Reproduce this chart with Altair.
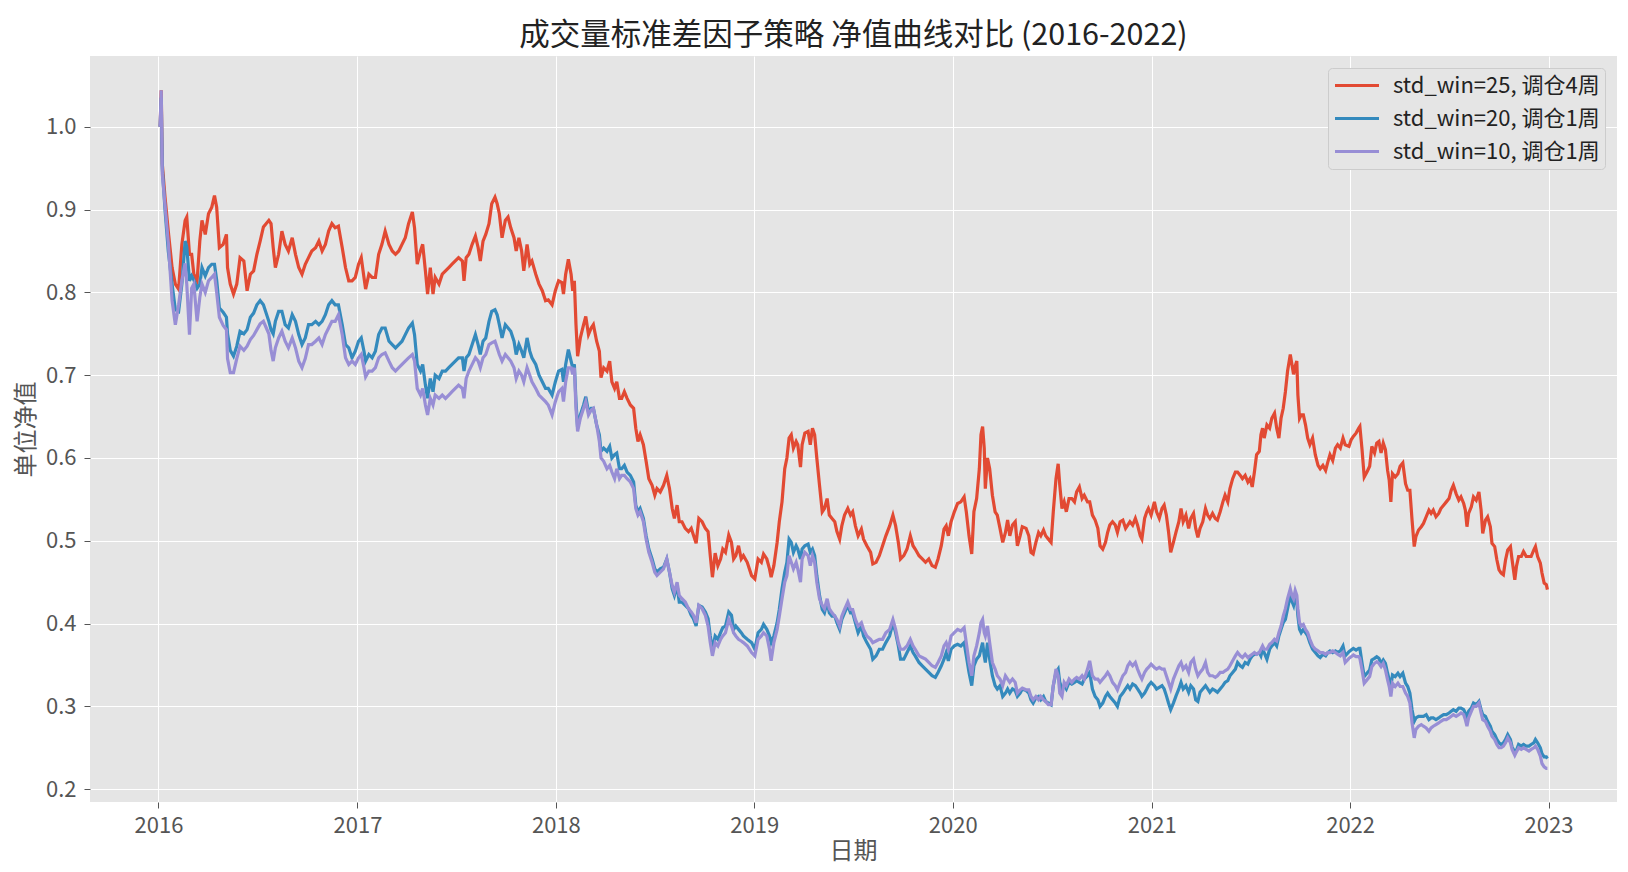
import altair as alt
import pandas as pd

# ---------------- data ----------------
labels = ["std_win=25, 调仓4周", "std_win=20, 调仓1周", "std_win=10, 调仓1周"]
colors = ["#E24A33", "#348ABD", "#988ED5"]
year_ticks = [2016, 2017, 2018, 2019, 2020, 2021, 2022, 2023]
value_ticks = [0.2, 0.3, 0.4, 0.5, 0.6, 0.7, 0.8, 0.9, 1.0]

# trading-day offsets (days since 2016-01-01)
days_2016 = [3, 5, 7, 12, 18, 25, 31, 37, 43, 49, 52, 57, 61, 65, 71, 76, 80, 86, 92, 98,
             103, 107, 112, 119, 125, 127, 132, 138, 144, 150, 157, 163, 169, 175, 181, 187, 193, 203, 207, 211,
             215, 221, 227, 233, 239, 246, 252, 258, 264, 270, 276, 282, 289, 295, 301, 307, 313, 319, 325, 331,
             338, 344, 350]
red_2016 = [1.0, 1.044, 0.955, 0.915, 0.874, 0.83, 0.81, 0.804, 0.858, 0.887, 0.891, 0.846, 0.846, 0.822, 0.814,
            0.862, 0.887, 0.87, 0.895, 0.903, 0.917, 0.903, 0.854, 0.858, 0.87, 0.83, 0.81, 0.798, 0.81, 0.842,
            0.838, 0.802, 0.822, 0.826, 0.846, 0.862, 0.879, 0.887, 0.883, 0.854, 0.83, 0.846, 0.874, 0.858, 0.85,
            0.866, 0.846, 0.83, 0.822, 0.834, 0.842, 0.85, 0.854, 0.862, 0.85, 0.858, 0.874, 0.883, 0.878, 0.88,
            0.854, 0.83, 0.814]
blue_2016 = [1.0, 1.035, 0.95, 0.9, 0.85, 0.81, 0.779, 0.777, 0.81, 0.862, 0.855, 0.814, 0.82, 0.815, 0.805,
             0.81, 0.83, 0.82, 0.83, 0.834, 0.834, 0.815, 0.781, 0.776, 0.77, 0.75, 0.73, 0.723, 0.735, 0.753,
             0.75, 0.755, 0.77, 0.775, 0.785, 0.79, 0.785, 0.765, 0.755, 0.75, 0.765, 0.777, 0.777, 0.761, 0.757,
             0.773, 0.765, 0.749, 0.737, 0.745, 0.761, 0.761, 0.765, 0.761, 0.765, 0.773, 0.785, 0.79, 0.785, 0.785,
             0.761, 0.737, 0.733]
purple_2016 = [1.0, 1.044, 0.943, 0.905, 0.86, 0.79, 0.761, 0.785, 0.814, 0.835, 0.81, 0.749, 0.805, 0.81, 0.765,
               0.794, 0.81, 0.8, 0.814, 0.818, 0.822, 0.8, 0.77, 0.76, 0.755, 0.72, 0.703, 0.703, 0.72, 0.735,
               0.73, 0.735, 0.743, 0.748, 0.755, 0.762, 0.765, 0.75, 0.73, 0.717, 0.733, 0.745, 0.753, 0.741, 0.733,
               0.745, 0.733, 0.717, 0.709, 0.72, 0.737, 0.737, 0.741, 0.745, 0.737, 0.749, 0.757, 0.765, 0.765, 0.773,
               0.749, 0.721, 0.713]

days_2017 = [356, 362, 368, 373, 378, 381, 387, 393, 399, 405, 411, 417, 424, 430, 436, 442, 448, 454, 460, 467,
             471, 476, 482, 486, 491, 495, 500, 505, 509, 516, 522, 528, 534, 540, 546, 552, 559, 562, 566, 571,
             577, 583, 588, 592, 597, 602, 608, 613, 619, 623, 627, 632, 638, 643, 648, 654, 658, 663, 668, 672,
             678, 683, 687, 694, 700, 706, 712]
red_2017 = [0.814, 0.818, 0.834, 0.842, 0.818, 0.804, 0.822, 0.818, 0.818, 0.846, 0.858, 0.874, 0.858, 0.85, 0.846,
            0.85, 0.858, 0.866, 0.883, 0.897, 0.878, 0.834, 0.85, 0.858, 0.826, 0.798, 0.83, 0.798, 0.818, 0.81,
            0.822, 0.826, 0.83, 0.834, 0.838, 0.842, 0.838, 0.814, 0.842, 0.846, 0.858, 0.868, 0.854, 0.838, 0.862,
            0.87, 0.883, 0.907, 0.915, 0.907, 0.895, 0.866, 0.887, 0.891, 0.878, 0.866, 0.85, 0.866, 0.85, 0.826,
            0.858, 0.834, 0.838, 0.822, 0.81, 0.802, 0.79]
blue_2017 = [0.721, 0.729, 0.741, 0.745, 0.729, 0.717, 0.725, 0.721, 0.729, 0.749, 0.757, 0.757, 0.741, 0.737, 0.733,
             0.737, 0.741, 0.749, 0.757, 0.763, 0.749, 0.713, 0.705, 0.713, 0.688, 0.672, 0.696, 0.68, 0.7, 0.696,
             0.705, 0.705, 0.709, 0.713, 0.717, 0.721, 0.721, 0.705, 0.721, 0.725, 0.737, 0.749, 0.737, 0.725, 0.741,
             0.745, 0.765, 0.777, 0.779, 0.773, 0.761, 0.745, 0.761, 0.757, 0.753, 0.741, 0.725, 0.737, 0.729, 0.721,
             0.745, 0.729, 0.721, 0.713, 0.7, 0.692, 0.684]
purple_2017 = [0.717, 0.713, 0.721, 0.725, 0.709, 0.698, 0.705, 0.705, 0.709, 0.721, 0.725, 0.727, 0.717, 0.709, 0.705,
               0.709, 0.713, 0.717, 0.721, 0.725, 0.717, 0.684, 0.676, 0.684, 0.664, 0.652, 0.672, 0.664, 0.676, 0.672,
               0.676, 0.672, 0.676, 0.68, 0.684, 0.688, 0.684, 0.672, 0.696, 0.705, 0.713, 0.721, 0.717, 0.709, 0.721,
               0.725, 0.737, 0.739, 0.741, 0.733, 0.725, 0.717, 0.725, 0.721, 0.717, 0.709, 0.696, 0.705, 0.7, 0.692,
               0.709, 0.7, 0.692, 0.684, 0.676, 0.672, 0.668]

days_2018 = [717, 724, 730, 736, 742, 745, 749, 754, 759, 762, 765, 768, 771, 776, 782, 786, 791, 796, 800, 806,
             811, 814, 819, 825, 830, 834, 839, 843, 848, 852, 857, 862, 868, 874, 878, 882, 886, 892, 897, 902,
             908, 913, 917, 923, 929, 935, 940, 945, 949, 954, 958, 963, 969, 975, 980, 984, 989, 994, 1000, 1006,
             1011, 1015, 1019, 1024, 1029, 1034, 1038, 1043, 1049, 1054, 1058, 1062, 1067, 1072, 1076, 1083]
red_2018 = [0.791, 0.785, 0.802, 0.814, 0.812, 0.798, 0.822, 0.84, 0.822, 0.802, 0.814, 0.761, 0.723, 0.745, 0.761,
            0.771, 0.749, 0.757, 0.761, 0.741, 0.729, 0.697, 0.709, 0.705, 0.717, 0.692, 0.684, 0.692, 0.672, 0.672,
            0.68, 0.672, 0.664, 0.66, 0.636, 0.62, 0.628, 0.616, 0.596, 0.575, 0.567, 0.555, 0.563, 0.559, 0.567,
            0.579, 0.563, 0.539, 0.527, 0.543, 0.523, 0.523, 0.515, 0.511, 0.515, 0.507, 0.497, 0.527, 0.523, 0.515,
            0.511, 0.482, 0.456, 0.485, 0.47, 0.478, 0.49, 0.486, 0.507, 0.498, 0.478, 0.482, 0.494, 0.478, 0.482,
            0.474]
blue_2018 = [0.684, 0.676, 0.692, 0.705, 0.707, 0.692, 0.713, 0.731, 0.717, 0.709, 0.713, 0.668, 0.636, 0.652, 0.664,
             0.674, 0.656, 0.66, 0.66, 0.64, 0.628, 0.608, 0.612, 0.608, 0.614, 0.6, 0.604, 0.606, 0.587, 0.587,
             0.591, 0.583, 0.579, 0.571, 0.543, 0.535, 0.539, 0.527, 0.506, 0.49, 0.478, 0.466, 0.462, 0.466, 0.468,
             0.478, 0.462, 0.442, 0.434, 0.446, 0.426, 0.426, 0.422, 0.418, 0.41, 0.406, 0.397, 0.422, 0.42, 0.414,
             0.406, 0.385, 0.369, 0.385, 0.381, 0.389, 0.395, 0.397, 0.414, 0.41, 0.393, 0.397, 0.393, 0.389, 0.385,
             0.381]
purple_2018 = [0.664, 0.652, 0.668, 0.68, 0.684, 0.668, 0.692, 0.709, 0.709, 0.701, 0.709, 0.66, 0.632, 0.648, 0.66,
               0.668, 0.652, 0.658, 0.66, 0.64, 0.62, 0.6, 0.596, 0.587, 0.591, 0.583, 0.575, 0.587, 0.575, 0.579,
               0.579, 0.575, 0.571, 0.563, 0.539, 0.531, 0.535, 0.523, 0.502, 0.486, 0.474, 0.462, 0.458, 0.462, 0.466,
               0.478, 0.462, 0.446, 0.438, 0.45, 0.434, 0.43, 0.426, 0.418, 0.414, 0.41, 0.401, 0.422, 0.418, 0.41,
               0.397, 0.377, 0.361, 0.377, 0.373, 0.381, 0.385, 0.389, 0.405, 0.397, 0.389, 0.385, 0.381, 0.379, 0.377,
               0.373]

days_2019 = [1091, 1097, 1103, 1109, 1113, 1119, 1124, 1127, 1132, 1138, 1142, 1147, 1152, 1156, 1160, 1164, 1168,
             1173, 1176, 1181, 1184, 1189, 1195, 1199, 1203, 1207, 1211, 1216, 1221, 1225, 1230, 1234, 1239, 1244,
             1248, 1253, 1257, 1262, 1268, 1273, 1277, 1282, 1287, 1293, 1297, 1303, 1310, 1314, 1320, 1326, 1332,
             1338, 1345, 1351, 1356, 1361, 1365, 1371, 1377, 1383, 1388, 1392, 1399, 1405, 1411, 1417, 1423, 1429,
             1434, 1440, 1445, 1449]
red_2019 = [0.458, 0.454, 0.478, 0.474, 0.484, 0.478, 0.466, 0.456, 0.47, 0.498, 0.523, 0.547, 0.587, 0.6, 0.624,
            0.628, 0.612, 0.62, 0.616, 0.589, 0.616, 0.63, 0.632, 0.616, 0.636, 0.628, 0.6, 0.567, 0.535, 0.539,
            0.551, 0.531, 0.527, 0.523, 0.511, 0.502, 0.518, 0.531, 0.539, 0.531, 0.535, 0.518, 0.506, 0.514, 0.502,
            0.494, 0.486, 0.472, 0.474, 0.482, 0.494, 0.506, 0.518, 0.531, 0.518, 0.498, 0.478, 0.482, 0.49, 0.506,
            0.494, 0.49, 0.482, 0.478, 0.474, 0.478, 0.47, 0.468, 0.478, 0.494, 0.514, 0.518]
blue_2019 = [0.377, 0.369, 0.389, 0.393, 0.399, 0.393, 0.385, 0.377, 0.385, 0.401, 0.417, 0.442, 0.462, 0.474, 0.502,
             0.498, 0.486, 0.494, 0.49, 0.478, 0.49, 0.494, 0.496, 0.486, 0.49, 0.482, 0.458, 0.434, 0.417, 0.413,
             0.426, 0.413, 0.409, 0.409, 0.401, 0.393, 0.405, 0.413, 0.422, 0.413, 0.413, 0.401, 0.389, 0.397, 0.385,
             0.377, 0.369, 0.357, 0.361, 0.369, 0.369, 0.377, 0.385, 0.401, 0.389, 0.373, 0.357, 0.357, 0.365, 0.373,
             0.365, 0.361, 0.353, 0.349, 0.345, 0.341, 0.337, 0.335, 0.341, 0.349, 0.357, 0.365]
purple_2019 = [0.365, 0.361, 0.381, 0.385, 0.389, 0.385, 0.369, 0.355, 0.377, 0.393, 0.409, 0.43, 0.45, 0.458, 0.482,
               0.474, 0.466, 0.474, 0.466, 0.45, 0.478, 0.486, 0.482, 0.47, 0.482, 0.474, 0.45, 0.43, 0.422, 0.418,
               0.43, 0.418, 0.413, 0.409, 0.405, 0.397, 0.409, 0.417, 0.426, 0.417, 0.417, 0.405, 0.397, 0.401, 0.393,
               0.385, 0.381, 0.377, 0.379, 0.381, 0.381, 0.389, 0.393, 0.405, 0.393, 0.377, 0.369, 0.369, 0.373, 0.381,
               0.373, 0.369, 0.361, 0.359, 0.357, 0.353, 0.349, 0.347, 0.353, 0.361, 0.373, 0.377]

days_2020 = [1453, 1458, 1464, 1470, 1476, 1482, 1486, 1491, 1496, 1500, 1505, 1510, 1513, 1516, 1519, 1521, 1525,
             1529, 1534, 1539, 1543, 1548, 1553, 1558, 1562, 1566, 1571, 1576, 1580, 1585, 1589, 1596, 1601, 1605,
             1609, 1614, 1619, 1623, 1628, 1632, 1637, 1642, 1646, 1651, 1655, 1658, 1662, 1666, 1670, 1675, 1680,
             1685, 1689, 1694, 1699, 1703, 1709, 1713, 1718, 1723, 1728, 1732, 1737, 1742, 1746, 1750, 1755, 1760,
             1764, 1769, 1774, 1779, 1783, 1787, 1792, 1797, 1801, 1806, 1809, 1814, 1818]
red_2020 = [0.506, 0.523, 0.535, 0.545, 0.547, 0.553, 0.535, 0.506, 0.484, 0.535, 0.551, 0.587, 0.628, 0.638, 0.612,
            0.563, 0.6, 0.587, 0.555, 0.535, 0.531, 0.515, 0.498, 0.51, 0.525, 0.506, 0.519, 0.523, 0.494, 0.506,
            0.517, 0.515, 0.506, 0.486, 0.484, 0.498, 0.51, 0.506, 0.513, 0.506, 0.502, 0.498, 0.535, 0.575, 0.593,
            0.567, 0.539, 0.547, 0.535, 0.551, 0.551, 0.547, 0.559, 0.565, 0.551, 0.555, 0.547, 0.547, 0.531, 0.525,
            0.515, 0.494, 0.49, 0.498, 0.51, 0.519, 0.523, 0.519, 0.51, 0.523, 0.525, 0.515, 0.519, 0.523, 0.519,
            0.527, 0.519, 0.506, 0.502, 0.527, 0.535]
blue_2020 = [0.355, 0.369, 0.373, 0.375, 0.373, 0.377, 0.361, 0.341, 0.325, 0.349, 0.357, 0.361, 0.369, 0.377, 0.361,
             0.353, 0.377, 0.357, 0.337, 0.325, 0.321, 0.325, 0.312, 0.316, 0.321, 0.316, 0.321, 0.319, 0.312, 0.316,
             0.321, 0.319, 0.316, 0.308, 0.304, 0.31, 0.312, 0.308, 0.312, 0.306, 0.304, 0.302, 0.325, 0.341, 0.345,
             0.329, 0.321, 0.325, 0.321, 0.329, 0.327, 0.329, 0.331, 0.329, 0.327, 0.333, 0.337, 0.341, 0.321, 0.312,
             0.308, 0.3, 0.304, 0.312, 0.316, 0.312, 0.308, 0.304, 0.3, 0.312, 0.316, 0.321, 0.325, 0.321, 0.327,
             0.325, 0.321, 0.316, 0.312, 0.316, 0.321]
purple_2020 = [0.369, 0.385, 0.389, 0.393, 0.391, 0.395, 0.377, 0.353, 0.337, 0.361, 0.373, 0.389, 0.401, 0.405, 0.389,
               0.385, 0.397, 0.377, 0.353, 0.345, 0.337, 0.333, 0.325, 0.337, 0.333, 0.329, 0.333, 0.329, 0.316, 0.32,
               0.322, 0.32, 0.32, 0.312, 0.308, 0.312, 0.308, 0.312, 0.308, 0.306, 0.302, 0.302, 0.325, 0.345, 0.337,
               0.316, 0.312, 0.329, 0.325, 0.333, 0.329, 0.333, 0.335, 0.333, 0.337, 0.333, 0.345, 0.355, 0.337, 0.333,
               0.333, 0.329, 0.333, 0.337, 0.341, 0.337, 0.329, 0.325, 0.32, 0.329, 0.337, 0.341, 0.349, 0.353, 0.349,
               0.353, 0.345, 0.337, 0.333, 0.341, 0.345]

days_2021 = [1821, 1826, 1832, 1836, 1841, 1846, 1850, 1854, 1858, 1862, 1867, 1872, 1877, 1881, 1885, 1890, 1895,
             1899, 1904, 1908, 1912, 1916, 1921, 1926, 1930, 1934, 1939, 1944, 1948, 1953, 1958, 1962, 1967, 1971,
             1976, 1981, 1985, 1990, 1994, 1999, 2004, 2008, 2012, 2016, 2020, 2025, 2028, 2031, 2034, 2039, 2044,
             2048, 2053, 2057, 2061, 2065, 2069, 2073, 2077, 2082, 2085, 2088, 2091, 2094, 2096, 2099, 2102, 2106,
             2110, 2114, 2118, 2123, 2128, 2133, 2137, 2142, 2147, 2151, 2155, 2160, 2165, 2169, 2174, 2179, 2183]
red_2021 = [0.539, 0.531, 0.547, 0.535, 0.527, 0.539, 0.543, 0.531, 0.511, 0.486, 0.498, 0.511, 0.523, 0.539, 0.523,
            0.531, 0.515, 0.527, 0.533, 0.515, 0.504, 0.515, 0.523, 0.539, 0.531, 0.527, 0.533, 0.527, 0.525, 0.535,
            0.547, 0.555, 0.547, 0.563, 0.575, 0.583, 0.583, 0.579, 0.575, 0.579, 0.571, 0.575, 0.565, 0.583, 0.604,
            0.608, 0.628, 0.636, 0.624, 0.64, 0.636, 0.648, 0.654, 0.636, 0.624, 0.648, 0.66, 0.68, 0.705, 0.725,
            0.713, 0.701, 0.711, 0.717, 0.676, 0.648, 0.652, 0.652, 0.64, 0.624, 0.616, 0.624, 0.604, 0.591, 0.587,
            0.591, 0.585, 0.595, 0.604, 0.597, 0.612, 0.616, 0.612, 0.624, 0.616]
blue_2021 = [0.325, 0.329, 0.325, 0.321, 0.323, 0.325, 0.321, 0.313, 0.304, 0.296, 0.304, 0.313, 0.321, 0.329, 0.321,
             0.325, 0.317, 0.325, 0.321, 0.308, 0.306, 0.317, 0.321, 0.325, 0.321, 0.317, 0.321, 0.319, 0.317, 0.321,
             0.325, 0.329, 0.331, 0.337, 0.341, 0.345, 0.353, 0.349, 0.347, 0.353, 0.351, 0.357, 0.361, 0.363, 0.363,
             0.365, 0.361, 0.369, 0.365, 0.357, 0.369, 0.373, 0.377, 0.373, 0.385, 0.393, 0.401, 0.405, 0.418, 0.434,
             0.427, 0.422, 0.434, 0.426, 0.409, 0.393, 0.389, 0.393, 0.389, 0.385, 0.377, 0.369, 0.365, 0.361, 0.359,
             0.363, 0.361, 0.365, 0.367, 0.365, 0.367, 0.365, 0.367, 0.373, 0.361]
purple_2021 = [0.347, 0.351, 0.347, 0.345, 0.347, 0.345, 0.345, 0.337, 0.329, 0.321, 0.333, 0.341, 0.349, 0.353, 0.345,
               0.349, 0.341, 0.353, 0.357, 0.345, 0.337, 0.341, 0.345, 0.353, 0.341, 0.337, 0.337, 0.335, 0.337, 0.341,
               0.341, 0.343, 0.345, 0.349, 0.355, 0.361, 0.365, 0.361, 0.359, 0.363, 0.359, 0.361, 0.363, 0.365, 0.363,
               0.365, 0.369, 0.373, 0.369, 0.369, 0.375, 0.377, 0.381, 0.379, 0.389, 0.397, 0.409, 0.418, 0.43, 0.442,
               0.434, 0.43, 0.44, 0.434, 0.418, 0.401, 0.397, 0.399, 0.393, 0.389, 0.381, 0.373, 0.369, 0.367, 0.365,
               0.365, 0.363, 0.365, 0.365, 0.367, 0.365, 0.363, 0.361, 0.365, 0.353]

days_2022 = [2190, 2194, 2198, 2203, 2208, 2210, 2214, 2218, 2223, 2228, 2232, 2237, 2241, 2245, 2249, 2253, 2257,
             2261, 2264, 2267, 2270, 2275, 2280, 2284, 2289, 2294, 2298, 2302, 2306, 2310, 2313, 2318, 2323, 2327,
             2332, 2337, 2341, 2345, 2350, 2355, 2359, 2364, 2369, 2374, 2378, 2382, 2387, 2392, 2396, 2401, 2404,
             2407, 2410, 2415, 2419, 2424, 2429, 2433, 2436, 2441, 2445, 2450, 2453, 2458, 2462, 2466, 2470, 2474,
             2478, 2482, 2487, 2490, 2495, 2498, 2502, 2507, 2511, 2516, 2521, 2525, 2530, 2533, 2537, 2542, 2545,
             2549, 2553, 2555]
red_2022 = [0.614, 0.622, 0.626, 0.63, 0.636, 0.638, 0.61, 0.577, 0.583, 0.59, 0.614, 0.606, 0.618, 0.62, 0.606,
            0.618, 0.61, 0.585, 0.573, 0.547, 0.581, 0.577, 0.581, 0.59, 0.594, 0.569, 0.561, 0.561, 0.525, 0.493,
            0.505, 0.513, 0.517, 0.521, 0.529, 0.537, 0.533, 0.537, 0.529, 0.533, 0.539, 0.543, 0.547, 0.551, 0.561,
            0.567, 0.557, 0.549, 0.553, 0.545, 0.537, 0.517, 0.533, 0.541, 0.553, 0.549, 0.559, 0.537, 0.509, 0.525,
            0.529, 0.517, 0.497, 0.493, 0.477, 0.465, 0.461, 0.459, 0.477, 0.489, 0.493, 0.477, 0.453, 0.469, 0.481,
            0.481, 0.487, 0.481, 0.481, 0.481, 0.489, 0.493, 0.481, 0.473, 0.461, 0.449, 0.447, 0.441]
blue_2022 = [0.366, 0.368, 0.37, 0.368, 0.37, 0.37, 0.352, 0.336, 0.34, 0.344, 0.356, 0.358, 0.36, 0.358, 0.352,
             0.356, 0.352, 0.34, 0.332, 0.324, 0.338, 0.336, 0.34, 0.336, 0.34, 0.328, 0.324, 0.316, 0.296, 0.282,
             0.286, 0.288, 0.288, 0.288, 0.29, 0.284, 0.286, 0.286, 0.284, 0.286, 0.288, 0.29, 0.29, 0.292, 0.294,
             0.296, 0.294, 0.298, 0.298, 0.296, 0.292, 0.286, 0.294, 0.298, 0.304, 0.302, 0.306, 0.296, 0.29, 0.288,
             0.282, 0.276, 0.27, 0.266, 0.26, 0.256, 0.254, 0.256, 0.26, 0.266, 0.26, 0.251, 0.245, 0.247, 0.254,
             0.252, 0.254, 0.252, 0.252, 0.254, 0.256, 0.26, 0.256, 0.25, 0.243, 0.239, 0.239, 0.237]
purple_2022 = [0.358, 0.36, 0.362, 0.36, 0.36, 0.358, 0.344, 0.328, 0.332, 0.336, 0.348, 0.352, 0.354, 0.352, 0.348,
               0.352, 0.344, 0.332, 0.324, 0.312, 0.328, 0.324, 0.328, 0.324, 0.324, 0.316, 0.312, 0.304, 0.28, 0.262,
               0.272, 0.276, 0.278, 0.276, 0.274, 0.27, 0.274, 0.276, 0.278, 0.28, 0.282, 0.284, 0.284, 0.286, 0.288,
               0.29, 0.288, 0.29, 0.292, 0.29, 0.284, 0.276, 0.286, 0.294, 0.3, 0.3, 0.304, 0.292, 0.284, 0.282,
               0.276, 0.27, 0.264, 0.26, 0.254, 0.25, 0.25, 0.252, 0.256, 0.262, 0.256, 0.248, 0.241, 0.245, 0.25,
               0.248, 0.25, 0.248, 0.246, 0.248, 0.25, 0.252, 0.248, 0.24, 0.231, 0.227, 0.225, 0.225]

# ---------------- assemble ----------------
days = days_2016 + days_2017 + days_2018 + days_2019 + days_2020 + days_2021 + days_2022
series_values = [
    red_2016 + red_2017 + red_2018 + red_2019 + red_2020 + red_2021 + red_2022,
    blue_2016 + blue_2017 + blue_2018 + blue_2019 + blue_2020 + blue_2021 + blue_2022,
    purple_2016 + purple_2017 + purple_2018 + purple_2019 + purple_2020 + purple_2021 + purple_2022,
]
origin = pd.Timestamp("2016-01-01")
dates = [origin + pd.Timedelta(days=d) for d in days]

FONT = "Noto Sans CJK SC"
GREY = "#555555"

color = alt.Color(
    "series:N",
    scale=alt.Scale(domain=labels, range=colors),
    legend=alt.Legend(
        title=None,
        orient="none",
        legendX=1238,
        legendY=12,
        symbolType="stroke",
        symbolSize=1936,
        symbolStrokeWidth=3.2,
        labelFont=FONT,
        labelFontSize=22,
        labelColor="#222222",
        labelLimit=500,
        labelOffset=12,
        padding=5,
        rowPadding=8,
        clipHeight=25,
        fillColor="#E5E5E5",
        strokeColor="#CCCCCC",
        cornerRadius=4,
    ),
)

x = alt.X(
    "date:T",
    title="日期",
    scale=alt.Scale(domain=[alt.DateTime(year=2015, month=8, date=28),
                            alt.DateTime(year=2023, month=5, date=7)]),
    axis=alt.Axis(
        values=[alt.DateTime(year=yr, month=1, date=1) for yr in year_ticks],
        format="%Y",
        labelPadding=7,
        titleX=763,
        titleY=49,
        titleBaseline="middle",
    ),
)
y = alt.Y(
    "value:Q",
    title="单位净值",
    scale=alt.Scale(domain=[0.1845, 1.0855], nice=False, zero=False),
    axis=alt.Axis(
        values=value_ticks,
        format=".1f",
        labelPadding=8,
        titleX=-64,
        titleY=373,
        titleAngle=270,
        titleAlign="center",
        titleBaseline="middle",
    ),
)

layers = []
for lab, vals in zip(labels, series_values):
    df = pd.DataFrame({"date": dates, "value": vals, "series": lab})
    layers.append(
        alt.Chart(df).mark_line(strokeWidth=3.2).encode(x=x, y=y, color=color)
    )

chart = (
    alt.layer(*layers)
    .properties(
        width=1527,
        height=746,
        title=alt.Title(
            "成交量标准差因子策略 净值曲线对比 (2016-2022)",
            font=FONT,
            fontSize=30.5,
            fontWeight="normal",
            color="#222222",
            anchor="middle",
            offset=5,
        ),
        padding={"left": 82, "top": 48, "right": 3, "bottom": 62},
        autosize=alt.AutoSizeParams(type="none"),
    )
    .configure_view(fill="#E5E5E5", strokeWidth=0)
    .configure_axis(
        labelFont=FONT,
        labelFontSize=22,
        labelColor=GREY,
        tickColor=GREY,
        tickSize=6,
        tickWidth=1,
        domain=False,
        grid=True,
        gridColor="#FFFFFF",
        gridWidth=1.0,
        titleFont=FONT,
        titleFontSize=24,
        titleFontWeight="normal",
        titleColor=GREY,
    )
)

chart.save("out.html", embed_options={"renderer": "svg", "actions": False})
